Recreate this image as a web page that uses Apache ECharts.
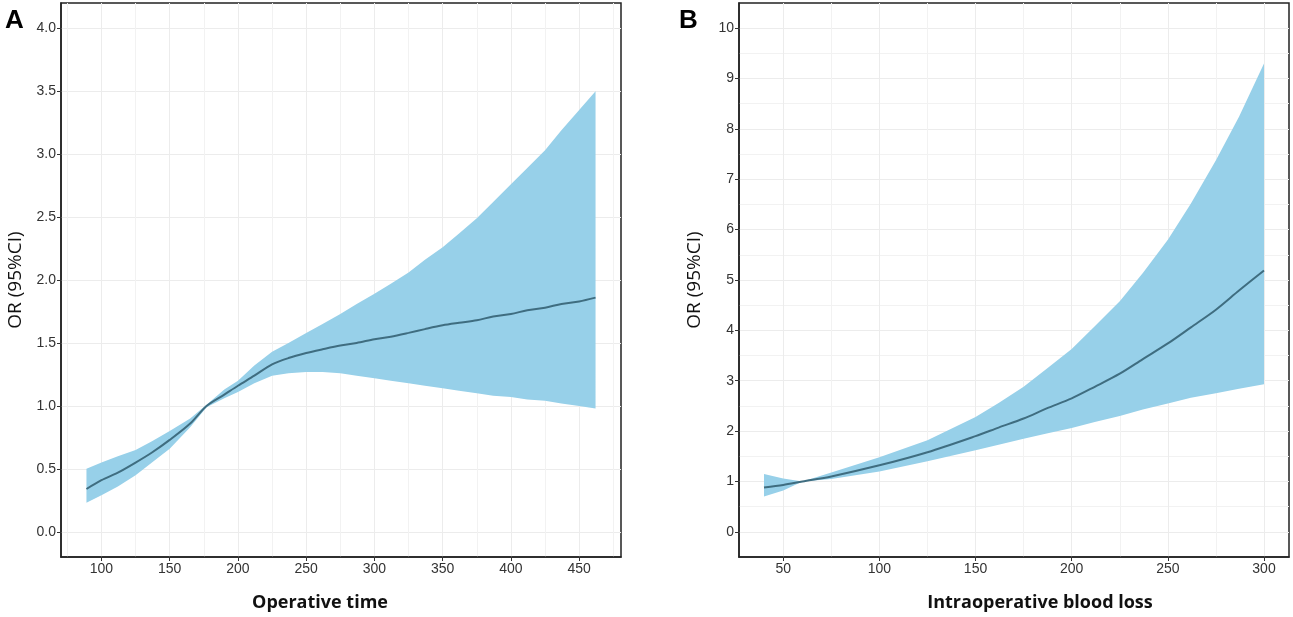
<!DOCTYPE html>
<html>
  <head>
    <meta charset="utf-8" />
    <title>RCS OR curves</title>
    <style>
      html, body { margin: 0; padding: 0; background: #fff; }
    </style>
  </head>
  <body>
    <script src="https://cdn.jsdelivr.net/npm/echarts@6/dist/echarts.min.js"></script>

    <div id="chart" style="width: 1293px; height: 617px"></div>

    <script>
      // panel A: operative time
      const xA = [89, 100, 112, 125, 137, 150, 165, 177, 190, 200, 212, 225, 237, 250, 262, 275, 287, 300, 312, 325, 337, 350, 362, 375, 387, 400, 412, 425, 437, 450, 462];
      const lineA = [0.34, 0.41, 0.47, 0.55, 0.63, 0.73, 0.86, 1.0, 1.09, 1.16, 1.24, 1.33, 1.38, 1.42, 1.45, 1.48, 1.5, 1.53, 1.55, 1.58, 1.61, 1.64, 1.66, 1.68, 1.71, 1.73, 1.76, 1.78, 1.81, 1.83, 1.86];
      const upA = [0.5, 0.55, 0.6, 0.65, 0.72, 0.8, 0.9, 1.01, 1.13, 1.2, 1.32, 1.43, 1.5, 1.58, 1.65, 1.73, 1.81, 1.89, 1.97, 2.06, 2.16, 2.26, 2.37, 2.49, 2.62, 2.76, 2.89, 3.03, 3.19, 3.35, 3.5];
      const loA = [0.23, 0.29, 0.36, 0.45, 0.55, 0.66, 0.83, 0.99, 1.06, 1.11, 1.18, 1.24, 1.26, 1.27, 1.27, 1.26, 1.24, 1.22, 1.2, 1.18, 1.16, 1.14, 1.12, 1.1, 1.08, 1.07, 1.05, 1.04, 1.02, 1.0, 0.98];
      const xTicksA = [100, 150, 200, 250, 300, 350, 400, 450];
      const xMinorA = [75, 125, 175, 225, 275, 325, 375, 425, 475];
      const yTicksA = [0, 0.5, 1, 1.5, 2, 2.5, 3, 3.5, 4];

      // panel B: intraoperative blood loss
      const xB = [40, 50, 60, 75, 100, 125, 150, 162, 175, 187, 200, 212, 225, 237, 250, 262, 275, 287, 300];
      const lineB = [0.88, 0.93, 1.0, 1.1, 1.32, 1.58, 1.9, 2.07, 2.25, 2.45, 2.65, 2.88, 3.14, 3.43, 3.74, 4.06, 4.41, 4.79, 5.19];
      const upB = [1.15, 1.06, 1.0, 1.18, 1.48, 1.82, 2.28, 2.56, 2.88, 3.24, 3.63, 4.08, 4.58, 5.14, 5.8, 6.52, 7.38, 8.24, 9.3];
      const loB = [0.7, 0.82, 1.0, 1.05, 1.2, 1.4, 1.62, 1.73, 1.85, 1.95, 2.06, 2.18, 2.3, 2.43, 2.55, 2.66, 2.75, 2.84, 2.93];
      const xTicksB = [50, 100, 150, 200, 250, 300];
      const xMinorB = [75, 125, 175, 225, 275];
      const yTicksB = [0, 1, 2, 3, 4, 5, 6, 7, 8, 9, 10];
      const yMinorB = [0.5, 1.5, 2.5, 3.5, 4.5, 5.5, 6.5, 7.5, 8.5, 9.5];

      const bandColor = '#97d0e9';
      const lineColor = '#3f6d80';
      const gridColor = '#ececec';

      function pairs(xs, ys) {
        return xs.map((x, i) => [x, ys[i]]);
      }

      function mainAxis(gi, min, max, ticks, fmt, extra) {
        return Object.assign(
          {
            type: 'value',
            gridIndex: gi,
            min: min,
            max: max,
            axisLine: { show: true, onZero: false, lineStyle: { color: '#222', width: 1.5 } },
            axisTick: { show: true, length: 4, customValues: ticks, lineStyle: { color: '#333' } },
            axisLabel: {
              customValues: ticks,
              color: '#333',
              fontSize: 14,
              fontFamily: 'Liberation Sans',
              margin: 5,
              formatter: fmt,
            },
            splitLine: { show: true, lineStyle: { color: gridColor, width: 1 } },
          },
          extra || {}
        );
      }

      function minorAxis(gi, min, max, ticks) {
        return {
          type: 'value',
          gridIndex: gi,
          min: min,
          max: max,
          axisLine: { show: false, onZero: false },
          axisTick: { show: false, customValues: ticks },
          axisLabel: { show: false, customValues: ticks },
          splitLine: { show: true, lineStyle: { color: '#f2f2f2', width: 1 } },
        };
      }

      // confidence band as a polygon: upper edge left->right, lower edge right->left
      function band(xi, yi, xs, lo, up, ln) {
        const poly = xs.map((x, i) => [x, lo[i], up[i]]);
        return [
          {
            type: 'custom',
            xAxisIndex: xi,
            yAxisIndex: yi,
            silent: true,
            z: 2,
            data: poly,
            renderItem: function (params, api) {
              if (params.dataIndex !== 0) return;
              const top = poly.map((d) => api.coord([d[0], d[2]]));
              const bot = poly.map((d) => api.coord([d[0], d[1]])).reverse();
              return {
                type: 'polygon',
                shape: { points: top.concat(bot) },
                style: { fill: bandColor },
              };
            },
          },
          {
            type: 'line',
            xAxisIndex: xi,
            yAxisIndex: yi,
            data: pairs(xs, ln),
            smooth: 0.3,
            symbol: 'none',
            lineStyle: { color: lineColor, width: 2 },
            z: 3,
          },
        ];
      }

      const titleFont = { fontFamily: 'Open Sans', fontSize: 18, fontWeight: 'bold', color: '#111' };
      const yTitleFont = { fontFamily: 'Open Sans', fontSize: 19, fontWeight: 'normal', color: '#111' };

      let myChart = echarts.init(document.getElementById('chart'), null, {
        width: 1293,
        height: 617,
      });

      let opts = {
        animation: false,
        backgroundColor: '#fff',
        title: [
          { text: 'A', left: 0, top: 3, textStyle: { fontFamily: 'Liberation Sans', fontSize: 26, fontWeight: 'bold', color: '#000' } },
          { text: 'B', left: 674, top: 3, textStyle: { fontFamily: 'Liberation Sans', fontSize: 26, fontWeight: 'bold', color: '#000' } },
        ],
        grid: [
          { left: 61, top: 3, width: 560, height: 554, show: true, borderColor: '#222', borderWidth: 1.5, backgroundColor: 'transparent' },
          { left: 739, top: 3, width: 550, height: 554, show: true, borderColor: '#222', borderWidth: 1.5, backgroundColor: 'transparent' },
        ],
        xAxis: [
          mainAxis(0, 70.35, 480.65, xTicksA, (v) => String(v), {
            name: 'Operative time',
            nameLocation: 'middle',
            nameGap: 37,
            nameTextStyle: Object.assign({}, titleFont, { padding: [0, 42, 0, 0] }),
          }),
          minorAxis(0, 70.35, 480.65, xMinorA),
          mainAxis(1, 27, 313, xTicksB, (v) => String(v), {
            name: 'Intraoperative blood loss',
            nameLocation: 'middle',
            nameGap: 37,
            nameTextStyle: Object.assign({}, titleFont, { padding: [0, 0, 0, 52] }),
          }),
          minorAxis(1, 27, 313, xMinorB),
        ],
        yAxis: [
          mainAxis(0, -0.2, 4.2, yTicksA, (v) => v.toFixed(1), {
            name: 'OR (95%CI)',
            nameLocation: 'middle',
            nameGap: 36,
            nameTextStyle: yTitleFont,
          }),
          mainAxis(1, -0.5, 10.5, yTicksB, (v) => String(v), {
            name: 'OR (95%CI)',
            nameLocation: 'middle',
            nameGap: 35,
            nameTextStyle: yTitleFont,
          }),
          minorAxis(1, -0.5, 10.5, yMinorB),
        ],
        series: [].concat(
          band(0, 0, xA, loA, upA, lineA),
          band(2, 1, xB, loB, upB, lineB)
        ),
      };

      myChart.setOption(opts, { notMerge: true });
    </script>
  </body>
</html>
